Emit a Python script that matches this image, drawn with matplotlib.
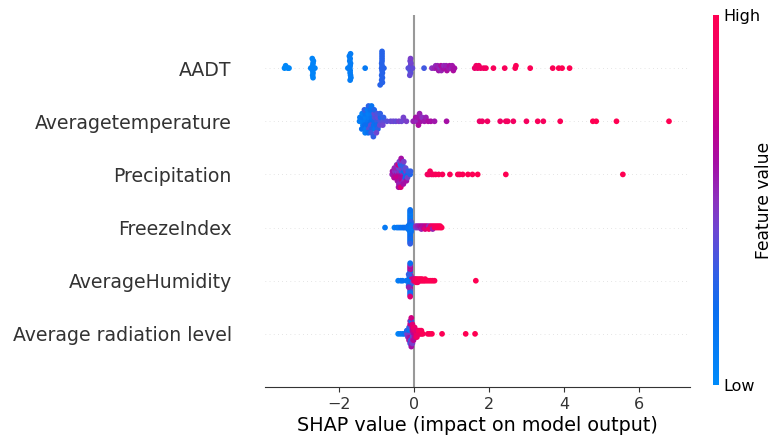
import matplotlib
matplotlib.use("Agg")
import matplotlib.pyplot as plt
import numpy as np
from matplotlib.colors import LinearSegmentedColormap, Normalize
from matplotlib.cm import ScalarMappable

# feature names, top to bottom
features = ["AADT", "Averagetemperature", "Precipitation", "FreezeIndex",
            "AverageHumidity", "Average radiation level"]

# SHAP values and (normalised) feature values
aadt_shap = [-3.45, -3.42, -3.36, -3.33,
             -2.71, -2.70, -2.70, -2.69, -2.69, -2.68, -2.70, -2.71, -2.69, -2.75, -2.64,
             -1.71, -1.70, -1.70, -1.69, -1.70, -1.71, -1.69, -1.70, -1.68, -1.72, -1.70, -1.69, -1.76,
             -1.30,
             -0.86, -0.85, -0.85, -0.86, -0.84, -0.85, -0.86, -0.85, -0.84, -0.85, -0.86, -0.85, -0.84, -0.85, -0.90, -0.80,
             -0.10, -0.09, -0.10, -0.08, -0.09, -0.10, -0.11, -0.09, -0.04, -0.15,
             0.27,
             0.48, 0.55, 0.58, 0.62, 0.63, 0.66, 0.70, 0.72, 0.73, 0.78,
             0.80, 0.85, 0.86, 0.88, 0.93, 0.95, 1.00, 1.02, 1.05, 1.08,
             1.62, 1.66, 1.70, 1.73, 1.78, 1.86, 1.92,
             2.12, 2.42, 2.70, 2.72, 3.10, 3.70, 3.86, 3.95, 4.15]
aadt_feat = [0.02, 0.02, 0.02, 0.02,
             0.05, 0.05, 0.05, 0.05, 0.05, 0.05, 0.05, 0.05, 0.05, 0.05, 0.05,
             0.10, 0.10, 0.10, 0.10, 0.10, 0.10, 0.10, 0.10, 0.10, 0.10, 0.10, 0.10, 0.10,
             0.12,
             0.27, 0.27, 0.27, 0.27, 0.27, 0.27, 0.27, 0.27, 0.27, 0.27, 0.27, 0.27, 0.27, 0.27, 0.27, 0.27,
             0.42, 0.40, 0.15, 0.44, 0.38, 0.42, 0.40, 0.45, 0.40, 0.38,
             0.33,
             0.50, 0.55, 0.52, 0.60, 0.55, 0.58, 0.50, 0.62, 0.55, 0.60,
             0.52, 0.58, 0.55, 0.62, 0.57, 0.60, 0.55, 0.58, 0.62, 0.60,
             0.85, 0.88, 0.85, 0.90, 0.88, 0.90, 0.92,
             0.95, 0.95, 0.97, 0.97, 0.98, 0.98, 1.00, 1.00, 1.00]

temp_shap = [-1.45, -1.44,
             -1.38, -1.37, -1.36, -1.38, -1.39,
             -1.30, -1.29, -1.31, -1.30, -1.28, -1.32, -1.30,
             -1.22, -1.21, -1.23, -1.22, -1.20, -1.24, -1.22, -1.21,
             -1.14, -1.13, -1.15, -1.14, -1.12, -1.16, -1.14, -1.13,
             -1.06, -1.05, -1.07, -1.06, -1.04, -1.08, -1.06,
             -0.98, -0.97, -0.99, -0.98, -0.96, -1.00,
             -0.90, -0.89, -0.91, -0.90,
             -0.82, -0.81, -0.83,
             -0.72, -0.62, -0.55, -0.48, -0.40, -0.33, -0.28, -0.20,
             -0.02, 0.00, 0.05, 0.08, 0.10, 0.12, 0.15, 0.18, 0.22, 0.28, 0.32, 0.38, 0.45, 0.55,
             0.87,
             1.75, 1.82, 1.96, 2.30, 2.45, 2.50, 2.65, 3.00, 3.30, 3.45, 3.90, 4.77, 4.86, 5.40, 6.80]
temp_feat = [0.10, 0.12,
             0.10, 0.15, 0.12, 0.08, 0.18,
             0.12, 0.10, 0.20, 0.15, 0.12, 0.30, 0.10,
             0.15, 0.12, 0.20, 0.10, 0.35, 0.12, 0.18, 0.28,
             0.20, 0.15, 0.38, 0.12, 0.25, 0.18, 0.32, 0.15,
             0.22, 0.35, 0.18, 0.40, 0.15, 0.30, 0.25,
             0.30, 0.40, 0.22, 0.35, 0.28, 0.42,
             0.35, 0.25, 0.40, 0.30,
             0.38, 0.30, 0.42,
             0.38, 0.40, 0.42, 0.40, 0.45, 0.42, 0.44, 0.45,
             0.50, 0.55, 0.60, 0.52, 0.58, 0.62, 0.55, 0.60, 0.50, 0.58, 0.55, 0.62, 0.60, 0.58,
             0.60,
             0.85, 0.88, 0.90, 0.88, 0.90, 0.92, 0.90, 0.92, 0.95, 0.93, 0.97, 1.00, 1.00, 1.00, 1.00]

precip_shap = [-0.58, -0.57,
               -0.52, -0.51, -0.53, -0.52,
               -0.46, -0.45, -0.47, -0.46, -0.44, -0.46,
               -0.40, -0.39, -0.41, -0.40, -0.38, -0.42, -0.40, -0.39, -0.41,
               -0.34, -0.33, -0.35, -0.34, -0.32, -0.36, -0.34, -0.33, -0.35, -0.34,
               -0.28, -0.27, -0.29, -0.28, -0.26, -0.30, -0.28, -0.27,
               -0.22, -0.21, -0.23, -0.22, -0.20,
               -0.16, -0.15, -0.17,
               -0.10, -0.09,
               0.36, 0.40, 0.43, 0.47, 0.52, 0.58, 0.66, 0.76, 0.96,
               1.17, 1.22, 1.30, 1.44, 1.56, 1.70, 2.45, 5.57]
precip_feat = [0.55, 0.60,
               0.60, 0.50, 0.65, 0.55,
               0.62, 0.45, 0.70, 0.55, 0.60, 0.50,
               0.65, 0.50, 0.70, 0.40, 0.60, 0.75, 0.55, 0.45, 0.62,
               0.60, 0.30, 0.65, 0.45, 0.70, 0.25, 0.55, 0.50, 0.80, 0.60,
               0.55, 0.20, 0.62, 0.35, 0.50, 0.30, 0.60, 0.45,
               0.25, 0.50, 0.20, 0.40, 0.60,
               0.20, 0.30, 0.45,
               0.25, 0.30,
               0.90, 0.92, 0.95, 0.90, 0.93, 0.95, 0.97, 0.95, 0.97,
               0.98, 0.96, 0.98, 1.00, 0.98, 1.00, 1.00, 1.00]

freeze_shap = [-0.77,
               -0.52, -0.45, -0.40, -0.35, -0.30, -0.26, -0.22, -0.18,
               -0.10, -0.10, -0.10, -0.10, -0.10, -0.10, -0.10, -0.10, -0.10, -0.10, -0.10, -0.10,
               -0.10, -0.10, -0.10, -0.10, -0.10, -0.10, -0.10, -0.10, -0.10, -0.10, -0.10, -0.10,
               -0.08, -0.08, -0.08, -0.08, -0.08, -0.08, -0.08, -0.08,
               -0.12, -0.12, -0.12, -0.12, -0.12, -0.15, -0.15, -0.15, -0.05, -0.05,
               0.05, 0.05, 0.10, 0.10, 0.15, 0.15, 0.20, 0.20, 0.20, 0.25, 0.25,
               0.30, 0.30, 0.30, 0.35, 0.35, 0.40, 0.40, 0.40, 0.45, 0.45,
               0.50, 0.50, 0.50, 0.55, 0.55, 0.60, 0.60, 0.65, 0.65, 0.70, 0.70, 0.74]
freeze_feat = [0.12,
               0.10, 0.15, 0.12, 0.18, 0.15, 0.20, 0.18, 0.22,
               0.15, 0.18, 0.12, 0.20, 0.15, 0.10, 0.18, 0.22, 0.15, 0.12, 0.20, 0.16,
               0.18, 0.14, 0.20, 0.12, 0.25, 0.15, 0.18, 0.10, 0.22, 0.15, 0.30, 0.18,
               0.20, 0.25, 0.18, 0.30, 0.22, 0.35, 0.20, 0.28,
               0.15, 0.18, 0.12, 0.20, 0.15, 0.12, 0.18, 0.15, 0.10, 0.12,
               0.45, 0.50, 0.48, 0.55, 0.50, 0.58, 0.60, 0.65, 0.55, 0.70, 0.62,
               0.75, 0.68, 0.80, 0.85, 0.72, 0.88, 0.50, 0.90, 0.92, 0.85,
               0.95, 0.90, 0.55, 0.95, 0.92, 0.97, 0.95, 0.98, 0.95, 1.00, 0.97, 1.00]

humid_shap = [-0.42, -0.35, -0.30,
              -0.10, -0.10, -0.10, -0.10, -0.10, -0.10, -0.10, -0.10, -0.10, -0.10, -0.10,
              -0.10, -0.10, -0.10, -0.10, -0.10, -0.10, -0.10, -0.10, -0.10, -0.10, -0.10,
              -0.08, -0.08, -0.08, -0.08, -0.08, -0.08,
              -0.12, -0.12, -0.12, -0.12, -0.12, -0.12,
              -0.06, -0.06, -0.06, -0.14, -0.14, -0.14, -0.17, -0.20,
              0.00, 0.00, 0.03, 0.03, 0.06, 0.06, 0.06, 0.10, 0.10, 0.10,
              0.14, 0.14, 0.18, 0.18, 0.22, 0.22, 0.26, 0.30, 0.30, 0.35,
              0.40, 0.45, 0.50, 0.55, 1.65]
humid_feat = [0.10, 0.12, 0.15,
              0.15, 0.50, 0.70, 0.20, 0.60, 0.35, 0.75, 0.10, 0.55, 0.40, 0.65,
              0.18, 0.45, 0.72, 0.25, 0.58, 0.12, 0.68, 0.30, 0.50, 0.80, 0.20,
              0.15, 0.60, 0.35, 0.70, 0.20, 0.55,
              0.12, 0.45, 0.65, 0.25, 0.75, 0.18,
              0.60, 0.80, 0.40, 0.15, 0.30, 0.55, 0.20, 0.15,
              0.85, 0.60, 0.90, 0.88, 0.92, 0.85, 0.95, 0.90, 0.97, 0.93,
              0.95, 0.98, 0.92, 1.00, 0.95, 0.97, 1.00, 0.96, 1.00, 0.98,
              1.00, 0.97, 1.00, 0.98, 1.00]

rad_shap = [-0.42, -0.36, -0.30, -0.25,
            -0.19, -0.19, -0.16, -0.16, -0.16, -0.13, -0.13, -0.13, -0.13, -0.13,
            -0.10, -0.10, -0.10, -0.10, -0.10, -0.10, -0.10, -0.10,
            -0.07, -0.07, -0.07, -0.07, -0.07, -0.07, -0.07, -0.07, -0.07, -0.07,
            -0.04, -0.04, -0.04, -0.04, -0.04, -0.04, -0.04,
            -0.01, -0.01, -0.01, -0.01, -0.01, 0.02, 0.02, 0.02, 0.02,
            0.05, 0.05, 0.05, 0.08, 0.08, 0.08, 0.12, 0.12, 0.16, 0.16, 0.20, 0.20, 0.24,
            0.37, 0.42, 0.48, 0.75, 1.38, 1.63]
rad_feat = [0.05, 0.10, 0.12, 0.15,
            0.40, 0.20, 0.45, 0.30, 0.50, 0.45, 0.20, 0.55, 0.35, 0.65,
            0.45, 0.15, 0.60, 0.10, 0.50, 0.70, 0.30, 0.55,
            0.45, 0.15, 0.65, 0.40, 0.12, 0.70, 0.50, 0.20, 0.60, 0.75,
            0.50, 0.65, 0.35, 0.70, 0.55, 0.80, 0.45,
            0.60, 0.75, 0.50, 0.85, 0.65, 0.70, 0.80, 0.60, 0.85,
            0.75, 0.85, 0.80, 0.88, 0.78, 0.90, 0.85, 0.92, 0.88, 0.95, 0.90, 0.95, 0.97,
            0.95, 0.97, 1.00, 0.98, 1.00, 1.00]

shap_rows = [aadt_shap, temp_shap, precip_shap, freeze_shap, humid_shap, rad_shap]
feat_rows = [aadt_feat, temp_feat, precip_feat, freeze_feat, humid_feat, rad_feat]

# shap-like blue -> purple -> red colormap
cmap = LinearSegmentedColormap.from_list("red_blue", [
    (0.00, (0 / 255, 139 / 255, 250 / 255)),
    (0.20, (10 / 255, 110 / 255, 240 / 255)),
    (0.30, (50 / 255, 95 / 255, 230 / 255)),
    (0.42, (110 / 255, 70 / 255, 210 / 255)),
    (0.50, (140 / 255, 50 / 255, 190 / 255)),
    (0.60, (165 / 255, 15 / 255, 165 / 255)),
    (0.70, (195 / 255, 0 / 255, 140 / 255)),
    (0.85, (235 / 255, 0 / 255, 105 / 255)),
    (1.00, (255 / 255, 0 / 255, 82 / 255)),
])


def swarm(shaps, row_height=0.4, nbins=100):
    # same binning / stacking idea as shap's beeswarm
    shaps = np.asarray(shaps, float)
    quant = np.round(nbins * (shaps - shaps.min()) / (shaps.max() - shaps.min() + 1e-8))
    order = np.argsort(quant, kind="stable")
    ys = np.zeros(len(shaps))
    layer = 0
    last = -1
    for i in order:
        if quant[i] != last:
            layer = 0
        ys[i] = np.ceil(layer / 2) * ((layer % 2) * 2 - 1)
        layer += 1
        last = quant[i]
    ys *= 0.9 * (row_height / np.max(ys + 1))
    return ys


fig = plt.figure(figsize=(7.75, 4.43), dpi=100)
ax = fig.add_axes([265 / 775, 1 - 387 / 443, 425 / 775, 372 / 443])

n = len(features)
ax.axvline(0, color="#999999", zorder=-1)
for k in range(n):
    pos = n - 1 - k
    ax.axhline(pos, color="#cccccc", lw=0.5, dashes=(1, 5), zorder=-1)
    x = np.asarray(shap_rows[k], float)
    c = np.asarray(feat_rows[k], float)
    ax.scatter(x, pos + swarm(x), c=c, cmap=cmap, vmin=0, vmax=1,
               s=17, linewidth=0, zorder=3)

ax.set_xlim(-3.97, 7.36)
ax.set_ylim(-1, n)
ax.set_yticks(range(n))
ax.set_yticklabels(features[::-1], fontsize=13.6)
ax.set_xticks([-2, 0, 2, 4, 6])
ax.tick_params('y', length=0, pad=24)
ax.tick_params('x', labelsize=11.5)
ax.tick_params(color="#333333", labelcolor="#333333")
for s in ["left", "right", "top"]:
    ax.spines[s].set_visible(False)
ax.spines["bottom"].set_color("#333333")
ax.set_xlabel("SHAP value (impact on model output)", fontsize=13.8, labelpad=3)

cax = fig.add_axes([713 / 775, 1 - 385 / 443, 6 / 775, 370 / 443])
sm = ScalarMappable(norm=Normalize(0, 1), cmap=cmap)
cb = fig.colorbar(sm, cax=cax, ticks=[0, 1])
cb.set_ticklabels(["Low", "High"])
cb.ax.tick_params(labelsize=11.5, length=0)
cb.set_label("Feature value", size=12.3, labelpad=-4)
cb.outline.set_visible(False)

fig.savefig("out.png", dpi=100)
